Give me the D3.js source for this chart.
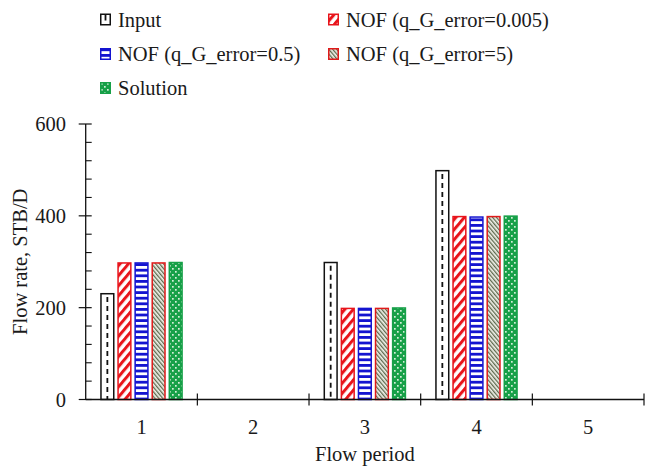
<!DOCTYPE html>
<html>
<head>
<meta charset="utf-8">
<script src="https://cdn.jsdelivr.net/npm/d3@7"></script>
<style>
  html, body { margin: 0; padding: 0; background: #fff; }
  svg { display: block; }
  text { font-family: "Liberation Serif", "DejaVu Serif", serif; fill: #1a1a1a; }
</style>
</head>
<body>
<svg id="chart" width="646" height="468"></svg>
<script>
// Flow periods on the x axis
const periods = ["1", "2", "3", "4", "5"];

// Series (STB/D per flow period)
const seriesNames = ["Input", "NOF (q_G_error=0.005)", "NOF (q_G_error=0.5)", "NOF (q_G_error=5)", "Solution"];
const inputRates   = [232, 0, 300, 500, 0];
const nof0005Rates = [299, 0, 200, 400, 0];
const nof05Rates   = [299, 0, 200, 399, 0];
const nof5Rates    = [299, 0, 200, 400, 0];
const solution     = [300, 0, 201, 401, 0];
const seriesValues = [inputRates, nof0005Rates, nof05Rates, nof5Rates, solution];

const yTicks = [0, 200, 400, 600];
const yMinorStep = 40;

const svg = d3.select("#chart");
const plot = { left: 85.7, right: 644, top: 124, bottom: 399.5 };
const FS = 20.5;

const x = d3.scaleBand().domain(periods).range([plot.left, plot.right]);
const xs = d3.scaleBand().domain(d3.range(seriesNames.length)).range([0, x.bandwidth()])
  .paddingInner(0.164).paddingOuter(0.85);
const y = d3.scaleLinear().domain([0, 600]).range([plot.bottom, plot.top]);

// Fill patterns
const defs = svg.append("defs");

const pRed = defs.append("pattern").attr("id", "pRed").attr("patternUnits", "userSpaceOnUse")
  .attr("width", 6.5).attr("height", 6.5).attr("patternTransform", "rotate(40)");
pRed.append("rect").attr("width", 6.5).attr("height", 6.5).attr("fill", "#fff");
pRed.append("rect").attr("width", 3).attr("height", 6.5).attr("fill", "#e8141b");

const pBlue = defs.append("pattern").attr("id", "pBlue").attr("patternUnits", "userSpaceOnUse")
  .attr("width", 6).attr("height", 5.6);
pBlue.append("rect").attr("width", 6).attr("height", 5.6).attr("fill", "#fff");
pBlue.append("rect").attr("width", 6).attr("height", 2.8).attr("fill", "#1414d0");

const pGrey = defs.append("pattern").attr("id", "pGrey").attr("patternUnits", "userSpaceOnUse")
  .attr("width", 3).attr("height", 3).attr("patternTransform", "rotate(-40)");
pGrey.append("rect").attr("width", 3).attr("height", 3).attr("fill", "#f2f2ea");
pGrey.append("rect").attr("width", 1.3).attr("height", 3).attr("fill", "#5e6a4e");

const pGreen = defs.append("pattern").attr("id", "pGreen").attr("patternUnits", "userSpaceOnUse")
  .attr("width", 6).attr("height", 6);
pGreen.append("rect").attr("width", 6).attr("height", 6).attr("fill", "#17a048");
pGreen.append("rect").attr("x", 1).attr("y", 1).attr("width", 1.7).attr("height", 1.7).attr("fill", "#d4efd9");
pGreen.append("rect").attr("x", 4).attr("y", 4).attr("width", 1.7).attr("height", 1.7).attr("fill", "#d4efd9");

const styles = [
  { fill: "#fff", stroke: "#111", dash: true },
  { fill: "url(#pRed)", stroke: "#e8141b" },
  { fill: "url(#pBlue)", stroke: "#1414d0" },
  { fill: "url(#pGrey)", stroke: "#e01a1a" },
  { fill: "url(#pGreen)", stroke: "#17a048" }
];

// Bars
seriesValues.forEach((vals, si) => {
  const st = styles[si];
  const g = svg.append("g");
  const bars = periods.map((p, i) => ({ p, v: vals[i] })).filter(d => d.v > 0);
  g.selectAll("rect").data(bars).join("rect")
    .attr("x", d => x(d.p) + xs(si) + 0.75)
    .attr("y", d => y(d.v) + 0.75)
    .attr("width", xs.bandwidth() - 1.5)
    .attr("height", d => y(0) - y(d.v) - 0.75)
    .attr("fill", st.fill)
    .attr("stroke", st.stroke)
    .attr("stroke-width", 1.5);
  if (st.dash) {
    g.selectAll("line").data(bars).join("line")
      .attr("x1", d => x(d.p) + xs(si) + xs.bandwidth() / 2)
      .attr("x2", d => x(d.p) + xs(si) + xs.bandwidth() / 2)
      .attr("y1", d => y(d.v) + 4)
      .attr("y2", y(0))
      .attr("stroke", "#111").attr("stroke-width", 1.8)
      .attr("stroke-dasharray", "5,4");
  }
});

// Y axis with minor ticks
const yAxisG = svg.append("g").attr("transform", `translate(${plot.left},0)`);
yAxisG.append("line").attr("x1", 0).attr("x2", 0).attr("y1", y(600)).attr("y2", y(0))
  .attr("stroke", "#111").attr("stroke-width", 1.3);
yAxisG.selectAll(".minor").data(d3.range(yMinorStep, 600, yMinorStep).filter(v => v % 200 !== 0)).join("line")
  .attr("x1", 0).attr("x2", 6).attr("y1", d => y(d)).attr("y2", d => y(d))
  .attr("stroke", "#111").attr("stroke-width", 1.1);
yAxisG.selectAll(".major").data(yTicks).join("line")
  .attr("x1", -7).attr("x2", 6).attr("y1", d => y(d)).attr("y2", d => y(d))
  .attr("stroke", "#111").attr("stroke-width", 1.2);
yAxisG.selectAll("text").data(yTicks).join("text")
  .attr("x", 66 - plot.left).attr("y", d => y(d)).attr("dy", "0.35em")
  .attr("text-anchor", "end").attr("font-size", FS).text(d => d);

// X axis: ticks sit on the boundaries between periods
const xAxisG = svg.append("g").attr("transform", `translate(0,${y(0)})`);
xAxisG.append("line").attr("x1", plot.left).attr("x2", plot.right).attr("y1", 0).attr("y2", 0)
  .attr("stroke", "#111").attr("stroke-width", 1.3);
xAxisG.selectAll(".tk").data(periods).join("line")
  .attr("x1", d => x(d) + x.bandwidth())
  .attr("x2", d => x(d) + x.bandwidth())
  .attr("y1", -6).attr("y2", 6)
  .attr("stroke", "#111").attr("stroke-width", 1.2);
xAxisG.selectAll("text").data(periods).join("text")
  .attr("x", d => x(d) + x.bandwidth() / 2).attr("y", 34)
  .attr("text-anchor", "middle").attr("font-size", FS).text(d => d);

// Axis titles
svg.append("text").attr("x", x("3") + x.bandwidth() / 2).attr("y", 461)
  .attr("text-anchor", "middle").attr("font-size", FS).text("Flow period");
svg.append("text").attr("transform", `translate(27,${(y(0) + y(600)) / 2}) rotate(-90)`)
  .attr("text-anchor", "middle").attr("font-size", FS).text("Flow rate, STB/D");

// Legend
const legendPos = [[100, 19.5], [328, 19.5], [100, 54], [328, 54], [100, 88]];
const lg = svg.append("g");
seriesNames.forEach((name, i) => {
  const [lx, ly] = legendPos[i];
  const st = styles[i];
  const g = lg.append("g").attr("transform", `translate(${lx},${ly})`);
  g.append("rect").attr("x", 0.75).attr("y", -5.25).attr("width", 9.5).attr("height", 10.5)
    .attr("fill", st.fill).attr("stroke", st.stroke).attr("stroke-width", 1.5);
  if (st.dash) {
    g.append("line").attr("x1", 5.5).attr("x2", 5.5).attr("y1", -4.5).attr("y2", 1)
      .attr("stroke", "#111").attr("stroke-width", 1.8);
  }
  g.append("text").attr("x", 18).attr("y", 7).attr("font-size", FS).text(name);
});
</script>
</body>
</html>
